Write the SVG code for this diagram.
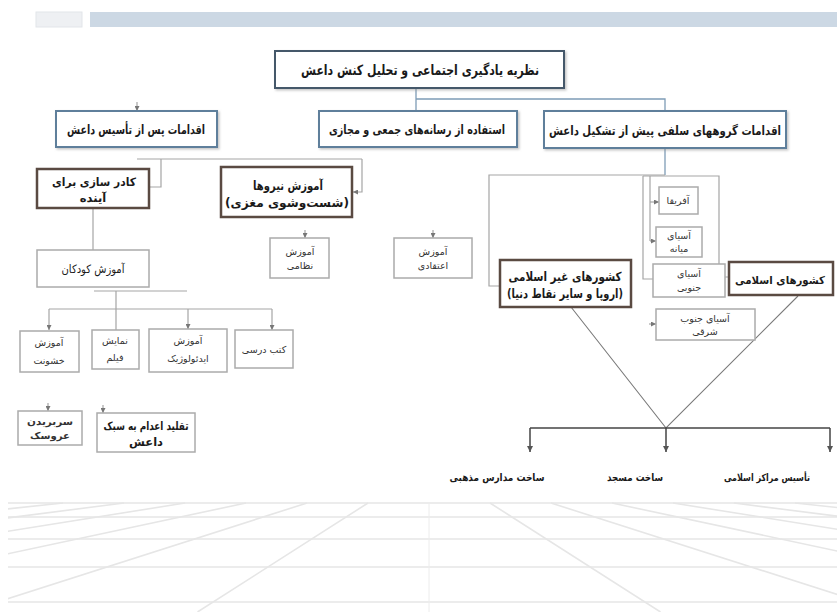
<svg xmlns="http://www.w3.org/2000/svg" width="837" height="612" viewBox="0 0 837 612">
<style>
.t{font-family:"DejaVu Sans",sans-serif;fill:#1a1a1a;text-anchor:middle}
.b{font-weight:bold}
.s{font-size:12.5px}
.m{font-size:11.5px}
.x{font-size:9.5px;fill:#333}
.bl{fill:#fff;stroke:#5f7f9b;stroke-width:2}
.br{fill:#fff;stroke:#5a4a42;stroke-width:2.5}
.gr{fill:#fff;stroke:#ababab;stroke-width:1.5}
.c{fill:none;stroke:#a5a5a5;stroke-width:1.2}
.cb{fill:none;stroke:#7e9cb6;stroke-width:1.3}
.v{fill:none;stroke:#7a7a7a;stroke-width:1.1}
.k{fill:none;stroke:#444;stroke-width:1.5}
.g{fill:none;stroke:#e6e6e6;stroke-width:1.6}
</style>
<defs>
<marker id="ah" viewBox="0 0 6 6" refX="6" refY="3" markerWidth="5" markerHeight="5" orient="auto" markerUnits="userSpaceOnUse"><path d="M0,0 L6,3 L0,6 z" fill="#777"/></marker>
<marker id="ak" viewBox="0 0 6 6" refX="6" refY="3" markerWidth="6" markerHeight="6" orient="auto" markerUnits="userSpaceOnUse"><path d="M0,0 L6,3 L0,6 z" fill="#555"/></marker>
<filter id="sh" x="-10%" y="-20%" width="130%" height="150%"><feDropShadow dx="1.5" dy="1.5" stdDeviation="1" flood-color="#8a8a8a" flood-opacity="0.5"/></filter>
<clipPath id="gc"><rect x="8" y="502" width="829" height="110"/></clipPath>
</defs>
<rect width="837" height="612" fill="#fff"/>
<g id="topbar">
<rect x="36" y="12" width="46" height="15" fill="#eef0f3" stroke="#e2e5e9"/>
<rect x="90" y="12" width="747" height="15" fill="#ccd8e4"/>
</g>
<g id="floor" clip-path="url(#gc)">
<path class="g" d="M8,503H837M8,517H837M8,539H837M8,567H837M8,602H837"/>
<path class="g" d="M368,503L197.5,612M307,503L-34,612M246,503L-265.5,612M185,503L-497,612M124,503L-728.5,612M63,503L-960,612M2,503L-1191.5,612M490,503L660.5,612M551,503L892,612M612,503L1123.5,612M673,503L1355,612M734,503L1586.5,612M795,503L1818,612M856,503L2049.5,612"/>
<path d="M429,503V612" stroke="#ececec" stroke-width="1"/>
</g>
<g id="connectors">
<path class="cb" d="M416,89V110M416,99H665V110"/>
<path class="c" d="M137,102V111" marker-end="url(#ah)"/>
<path class="c" d="M137,159H362M161,159V187H150M362,159V192H353" marker-end="url(#ah)"/>
<path class="c" d="M93,208V250"/>
<path class="c" d="M94,291H187M116,291V330M49,309H272"/>
<path class="c" d="M49,309V330" marker-end="url(#ah)"/>
<path class="c" d="M188,309V329" marker-end="url(#ah)"/>
<path class="c" d="M272,309V330" marker-end="url(#ah)"/>
<path class="c" d="M48,403V411" marker-end="url(#ah)"/>
<path class="c" d="M103,405V413" marker-end="url(#ah)"/>
<path class="c" d="M305,230V238" marker-end="url(#ah)"/>
<path class="c" d="M433,230V238" marker-end="url(#ah)"/>
<path class="cb" d="M665,148V175"/>
<path class="c" d="M665,175H489V286H500"/>
<path class="c" d="M643,176H719V277H728M643,176V279H653"/>
<path class="c" d="M650,176V241"/>
<path class="c" d="M650,202H659" marker-end="url(#ah)"/>
<path class="c" d="M650,241H656" marker-end="url(#ah)"/>
<path class="c" d="M649,324H656" marker-end="url(#ah)"/>
<path class="v" d="M571,307L666,428L798,296"/>
<path class="k" d="M530,428H830"/>
<path class="k" d="M530,428V452" marker-end="url(#ak)"/>
<path class="k" d="M666,428V452" marker-end="url(#ak)"/>
<path class="k" d="M830,428V452" marker-end="url(#ak)"/>
</g>
<g id="n-title">
<rect x="275" y="51" width="289" height="37" fill="#fff" stroke="#44596b" stroke-width="2" filter="url(#sh)"/>
<text class="t b" x="420" y="75" font-size="14" textLength="238" lengthAdjust="spacingAndGlyphs">نظریه یادگیری اجتماعی و تحلیل کنش داعش</text>
</g>
<g id="n-after">
<rect class="bl" x="56" y="111" width="161" height="36" filter="url(#sh)"/>
<text class="t b s" x="136" y="134" textLength="138" lengthAdjust="spacingAndGlyphs">اقدامات پس از تأسیس داعش</text>
</g>
<g id="n-media">
<rect class="bl" x="319" y="111" width="198" height="36" filter="url(#sh)"/>
<text class="t b s" x="417" y="134" textLength="176" lengthAdjust="spacingAndGlyphs">استفاده از رسانه‌های جمعی و مجازی</text>
</g>
<g id="n-salafi">
<rect class="bl" x="544" y="111" width="242" height="37" filter="url(#sh)"/>
<text class="t b s" x="665" y="135" textLength="232" lengthAdjust="spacingAndGlyphs">اقدامات گروههای سلفی پیش از تشکیل داعش</text>
</g>
<g id="n-cadre">
<rect class="br" x="37" y="169" width="112" height="39"/>
<text class="t b m" x="94" y="186" textLength="84" lengthAdjust="spacingAndGlyphs">کادر سازی برای</text>
<text class="t b m" x="93" y="202">آینده</text>
</g>
<g id="n-forces">
<rect class="br" x="221" y="167" width="131" height="50"/>
<text class="t b s" x="288" y="190" textLength="70" lengthAdjust="spacingAndGlyphs">آموزش نیروها</text>
<text class="t b s" x="287" y="207" textLength="124" lengthAdjust="spacingAndGlyphs">(شست‌وشوی مغزی)</text>
</g>
<g id="n-military">
<rect class="gr" x="270" y="238" width="59" height="40"/>
<text class="t x" x="300" y="255">آموزش</text>
<text class="t x" x="300" y="269">نظامی</text>
</g>
<g id="n-belief">
<rect class="gr" x="394" y="238" width="78" height="40"/>
<text class="t x" x="433" y="255">آموزش</text>
<text class="t x" x="433" y="269">اعتقادی</text>
</g>
<g id="n-children">
<rect class="gr" x="37" y="250" width="112" height="37"/>
<text class="t m" x="93" y="273" textLength="63" lengthAdjust="spacingAndGlyphs">آموزش کودکان</text>
</g>
<g id="n-violence">
<rect class="gr" x="20" y="331" width="59" height="41"/>
<text class="t x" x="49" y="346">آموزش</text>
<text class="t x" x="49" y="364">خشونت</text>
</g>
<g id="n-film">
<rect class="gr" x="92" y="330" width="47" height="39"/>
<text class="t x" x="115" y="344">نمایش</text>
<text class="t x" x="115" y="361">فیلم</text>
</g>
<g id="n-ideology">
<rect class="gr" x="149" y="329" width="78" height="43"/>
<text class="t x" x="188" y="344">آموزش</text>
<text class="t x" x="188" y="362">ایدئولوژیک</text>
</g>
<g id="n-books">
<rect class="gr" x="235" y="330" width="58" height="38"/>
<text class="t x" x="264" y="353">کتب درسی</text>
</g>
<g id="n-doll">
<rect class="gr" x="18" y="411" width="64" height="34"/>
<text class="t x b" x="50" y="425" textLength="46" lengthAdjust="spacingAndGlyphs">سربریدن</text>
<text class="t x b" x="50" y="439" textLength="40" lengthAdjust="spacingAndGlyphs">عروسک</text>
</g>
<g id="n-imitate">
<rect class="gr" x="97" y="413" width="98" height="39"/>
<text class="t m b" x="146" y="430" textLength="85" lengthAdjust="spacingAndGlyphs">تقلید اعدام به سبک</text>
<text class="t m b" x="146" y="446">داعش</text>
</g>
<g id="n-africa">
<rect class="gr" x="659" y="187" width="39" height="27"/>
<text class="t x" x="678" y="204">آفریقا</text>
</g>
<g id="n-central">
<rect class="gr" x="656" y="227" width="46" height="30"/>
<text class="t x" x="679" y="239">آسیای</text>
<text class="t x" x="679" y="252">میانه</text>
</g>
<g id="n-south">
<rect class="gr" x="653" y="264" width="72" height="33"/>
<text class="t x" x="689" y="277">آسیای</text>
<text class="t x" x="689" y="291">جنوبی</text>
</g>
<g id="n-southeast">
<rect class="gr" x="656" y="309" width="99" height="31"/>
<text class="t x" x="705" y="322">آسیای جنوب</text>
<text class="t x" x="705" y="335">شرقی</text>
</g>
<g id="n-nonislamic">
<rect class="br" x="500" y="260" width="131" height="47"/>
<text class="t b s" x="565" y="281" textLength="113" lengthAdjust="spacingAndGlyphs">کشورهای غیر اسلامی</text>
<text class="t b s" x="565" y="298" textLength="116" lengthAdjust="spacingAndGlyphs">(اروپا و سایر نقاط دنیا)</text>
</g>
<g id="n-islamic">
<rect class="br" x="729" y="262" width="104" height="33"/>
<text class="t b" x="780" y="284" font-size="11" textLength="90" lengthAdjust="spacingAndGlyphs">کشورهای اسلامی</text>
</g>
<g id="n-schools">
<text class="t b" x="497" y="481" font-size="10.5" textLength="95" lengthAdjust="spacingAndGlyphs">ساخت مدارس مذهبی</text>
</g>
<g id="n-mosque">
<text class="t b" x="635" y="481" font-size="10.5" textLength="56" lengthAdjust="spacingAndGlyphs">ساخت مسجد</text>
</g>
<g id="n-centers">
<text class="t b" x="767" y="481" font-size="10" textLength="86" lengthAdjust="spacingAndGlyphs">تأسیس مراکز اسلامی</text>
</g>
</svg>
